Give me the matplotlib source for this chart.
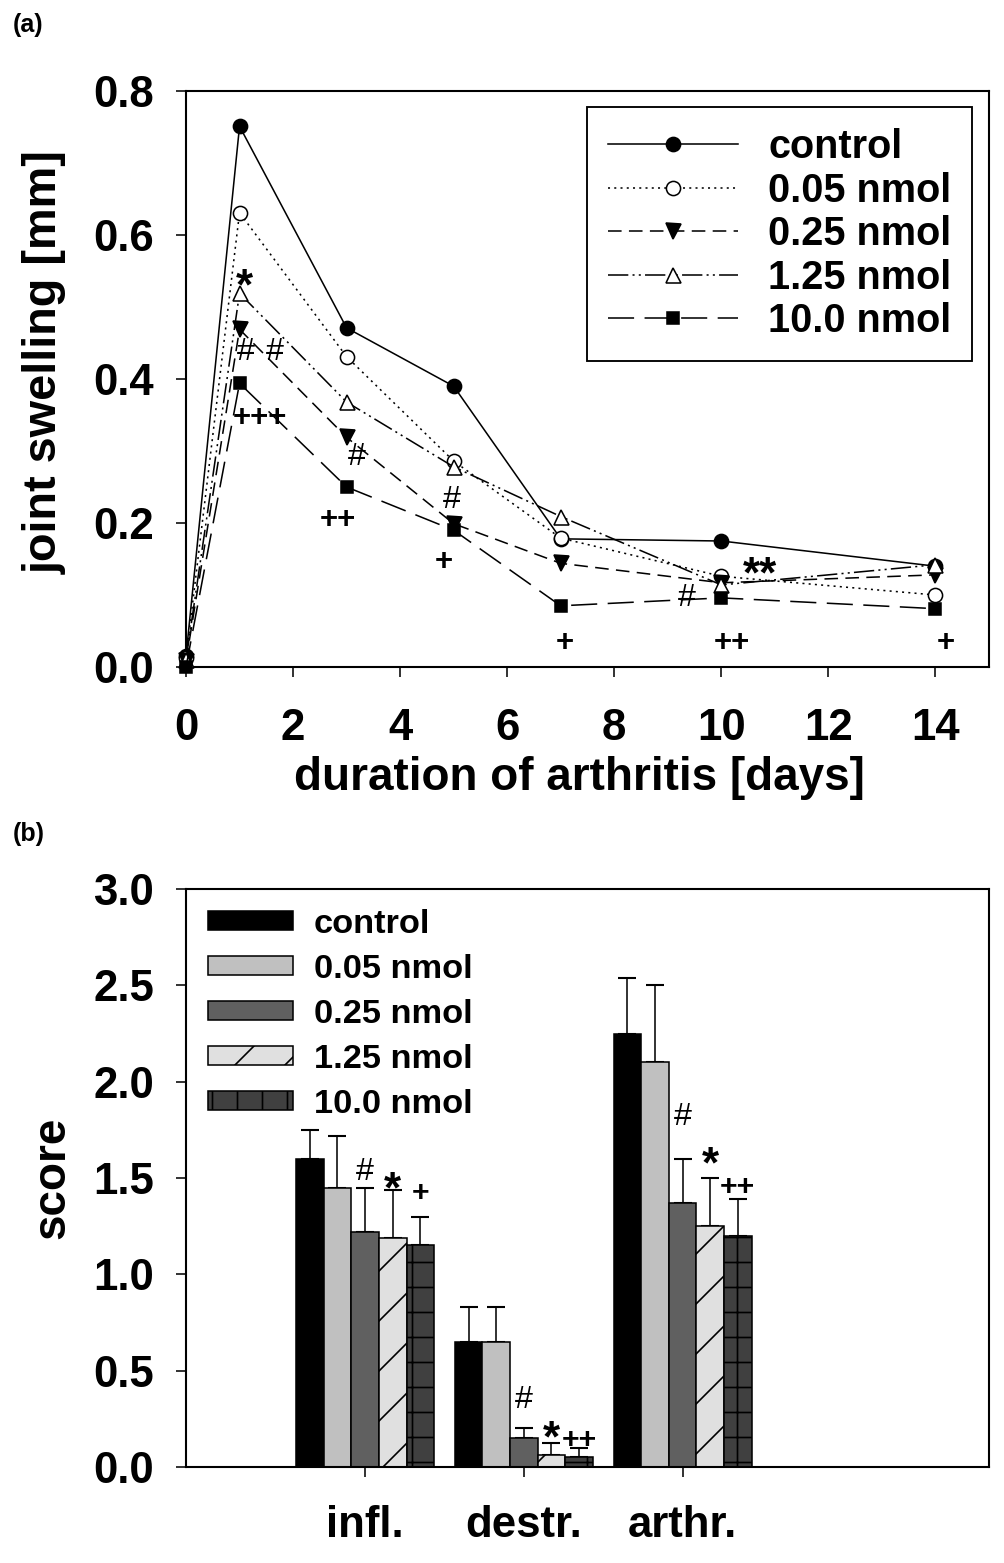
import numpy as np
import matplotlib
matplotlib.use("Agg")
import matplotlib.pyplot as plt

plt.rcParams['font.family'] = ['Liberation Sans', 'DejaVu Sans']
plt.rcParams['font.weight'] = 'bold'
plt.rcParams['hatch.linewidth'] = 0.8


# panel (a): joint swelling over time
days = [0, 1, 3, 5, 7, 10, 14]

groups = ["control", "0.05 nmol", "0.25 nmol", "1.25 nmol", "10.0 nmol"]

swell_control = [0.015, 0.751, 0.471, 0.390, 0.178, 0.175, 0.140]
swell_005 = [0.012, 0.631, 0.431, 0.286, 0.179, 0.126, 0.100]
swell_025 = [0.008, 0.469, 0.319, 0.199, 0.144, 0.117, 0.128]
swell_125 = [0.010, 0.519, 0.368, 0.278, 0.209, 0.114, 0.142]
swell_10 = [0.000, 0.394, 0.250, 0.190, 0.085, 0.096, 0.081]

# significance marks (text, day, value)
marks_a = [
    ("*", 1.10, 0.544),
    ("#", 1.12, 0.438),
    ("#", 1.66, 0.438),
    ("+++", 1.38, 0.346),
    ("#", 3.20, 0.292),
    ("++", 2.84, 0.204),
    ("#", 4.97, 0.232),
    ("+", 4.82, 0.146),
    ("**", 10.73, 0.144),
    ("#", 9.36, 0.096),
    ("+", 7.08, 0.033),
    ("++", 10.19, 0.033),
    ("+", 14.20, 0.033),
]

# panel (b): histological scores
categories = ["infl.", "destr.", "arthr."]

score_control = [1.60, 0.65, 2.25]
score_005 = [1.45, 0.65, 2.10]
score_025 = [1.22, 0.15, 1.37]
score_125 = [1.19, 0.06, 1.25]
score_10 = [1.15, 0.05, 1.20]

err_control = [0.15, 0.18, 0.29]
err_005 = [0.27, 0.18, 0.40]
err_025 = [0.23, 0.05, 0.23]
err_125 = [0.25, 0.065, 0.25]
err_10 = [0.15, 0.05, 0.19]

# (text, category index, bar index, value)
marks_b = [
    ("#", 0, 2, 1.53),
    ("*", 0, 3, 1.50),
    ("+", 0, 4, 1.42),
    ("#", 1, 2, 0.348),
    ("*", 1, 3, 0.208),
    ("++", 1, 4, 0.14),
    ("#", 2, 2, 1.816),
    ("*", 2, 3, 1.63),
    ("++", 2, 4, 1.453),
]


def mark_text(ax, txt, x, y, size_hash, size_star, size_plus):
    if txt.startswith("#"):
        ax.annotate(txt, (x, y), ha="center", va="center",
                    fontsize=size_hash, fontweight="normal")
    elif txt.startswith("*"):
        ax.annotate(txt, (x, y), xytext=(0, -6), textcoords="offset points",
                    ha="center", va="center", fontsize=size_star,
                    fontweight="bold")
    else:
        ax.annotate(txt, (x, y), ha="center", va="center",
                    fontsize=size_plus, fontweight="bold")


fig = plt.figure(figsize=(1004 / 150, 1563 / 150), dpi=150)

ax1 = fig.add_axes([186 / 1004, 1 - 667 / 1563, 803 / 1004, 576 / 1563])
ax2 = fig.add_axes([186 / 1004, 1 - 1467 / 1563, 803 / 1004, 578 / 1563])

lw = 0.75

series_a = [swell_control, swell_005, swell_025, swell_125, swell_10]
styles = [
    dict(marker="o", mfc="black", ms=6.8, dashes=None),
    dict(marker="o", mfc="white", ms=6.8, dashes=(1.3, 2.7)),
    dict(marker="v", mfc="black", ms=7.2, dashes=(8.7, 4.7)),
    dict(marker="^", mfc="white", ms=7.2, dashes=(13, 2.7, 1.3, 2.7, 1.3, 2.7)),
    dict(marker="s", mfc="black", ms=5.6, dashes=(16.7, 6.7)),
]

for vals, name, st in zip(series_a, groups, styles):
    line, = ax1.plot(days, vals, color="black", lw=lw,
                     marker=st["marker"], markersize=st["ms"],
                     markerfacecolor=st["mfc"], markeredgecolor="black",
                     markeredgewidth=0.75, label=name, clip_on=False,
                     zorder=3)
    if st["dashes"] is not None:
        line.set_dashes(st["dashes"])

for txt, x, y in marks_a:
    mark_text(ax1, txt, x, y, 15.5, 21, 15)

ax1.set_xlim(0, 15)
ax1.set_ylim(0, 0.8)
ax1.set_xticks(range(0, 15, 2))
ax1.set_yticks(np.arange(0, 0.81, 0.2))
ax1.set_yticklabels([f"{v:.1f}" for v in np.arange(0, 0.81, 0.2)])

leg1 = ax1.legend(loc="upper right", bbox_to_anchor=(0.979, 0.972),
                  borderaxespad=0, fontsize=19, numpoints=1,
                  handlelength=3.3, handletextpad=0.75, labelspacing=0.14,
                  borderpad=0.53, fancybox=False, framealpha=1)
leg1.get_frame().set_edgecolor("black")
leg1.get_frame().set_linewidth(0.9)

ax1.set_xlabel("duration of arthritis [days]", fontsize=22, fontweight="bold",
               va="center")
ax1.xaxis.set_label_coords(0.49, -0.193)
ax1.set_ylabel("joint swelling [mm]", fontsize=22.5, fontweight="bold",
               va="center")
ax1.yaxis.set_label_coords(-0.176, 0.53)

# bars
series_b = [score_control, score_005, score_025, score_125, score_10]
errs_b = [err_control, err_005, err_025, err_125, err_10]
colors = ["black", "#c0c0c0", "#606060", "#e0e0e0", "#404040"]
hatches = [None, None, None, "/", "+"]

w = 0.174
x = np.arange(len(categories))

for k in range(5):
    pos = x + (k - 2) * w
    ax2.bar(pos, series_b[k], width=w, color=colors[k], edgecolor="black",
            linewidth=0.75, hatch=hatches[k], label=groups[k], zorder=2)
    ax2.errorbar(pos, series_b[k],
                 yerr=[np.zeros(len(categories)), errs_b[k]],
                 fmt="none", ecolor="black", elinewidth=0.75, capsize=4.3,
                 capthick=1.0, zorder=1)

for txt, ci, bi, y in marks_b:
    mark_text(ax2, txt, ci + (bi - 2) * w, y, 15.5, 21, 14.5)

ax2.set_xlim(-1.128, 3.93)
ax2.set_ylim(0, 3.0)
ax2.set_xticks(x)
ax2.set_xticklabels(categories)
ax2.set_yticks(np.arange(0, 3.01, 0.5))
ax2.set_yticklabels([f"{v:.1f}" for v in np.arange(0, 3.01, 0.5)])

ax2.legend(loc="upper left", bbox_to_anchor=(0.028, 0.966), borderaxespad=0,
           fontsize=16.5, frameon=False, handlelength=2.45, handleheight=0.48,
           handletextpad=0.62, labelspacing=0.41, borderpad=0)

ax2.set_ylabel("score", fontsize=22, fontweight="bold", va="center")
ax2.yaxis.set_label_coords(-0.167, 0.5)

for ax, xpad in [(ax1, 14.9), (ax2, 13.4)]:
    for s in ax.spines.values():
        s.set_linewidth(1.0)
    ax.tick_params(direction="out", length=4.8, width=0.75, labelsize=21)
    ax.tick_params(axis="x", pad=xpad)
    ax.tick_params(axis="y", pad=10.6)
    for lab in ax.get_xticklabels() + ax.get_yticklabels():
        lab.set_fontweight("bold")

fig.text(13 / 1004, 1 - 25 / 1563, "(a)", fontsize=12, fontweight="bold",
         ha="left", va="center")
fig.text(13 / 1004, 1 - 834 / 1563, "(b)", fontsize=12, fontweight="bold",
         ha="left", va="center")

fig.savefig("out.png", dpi=150)
